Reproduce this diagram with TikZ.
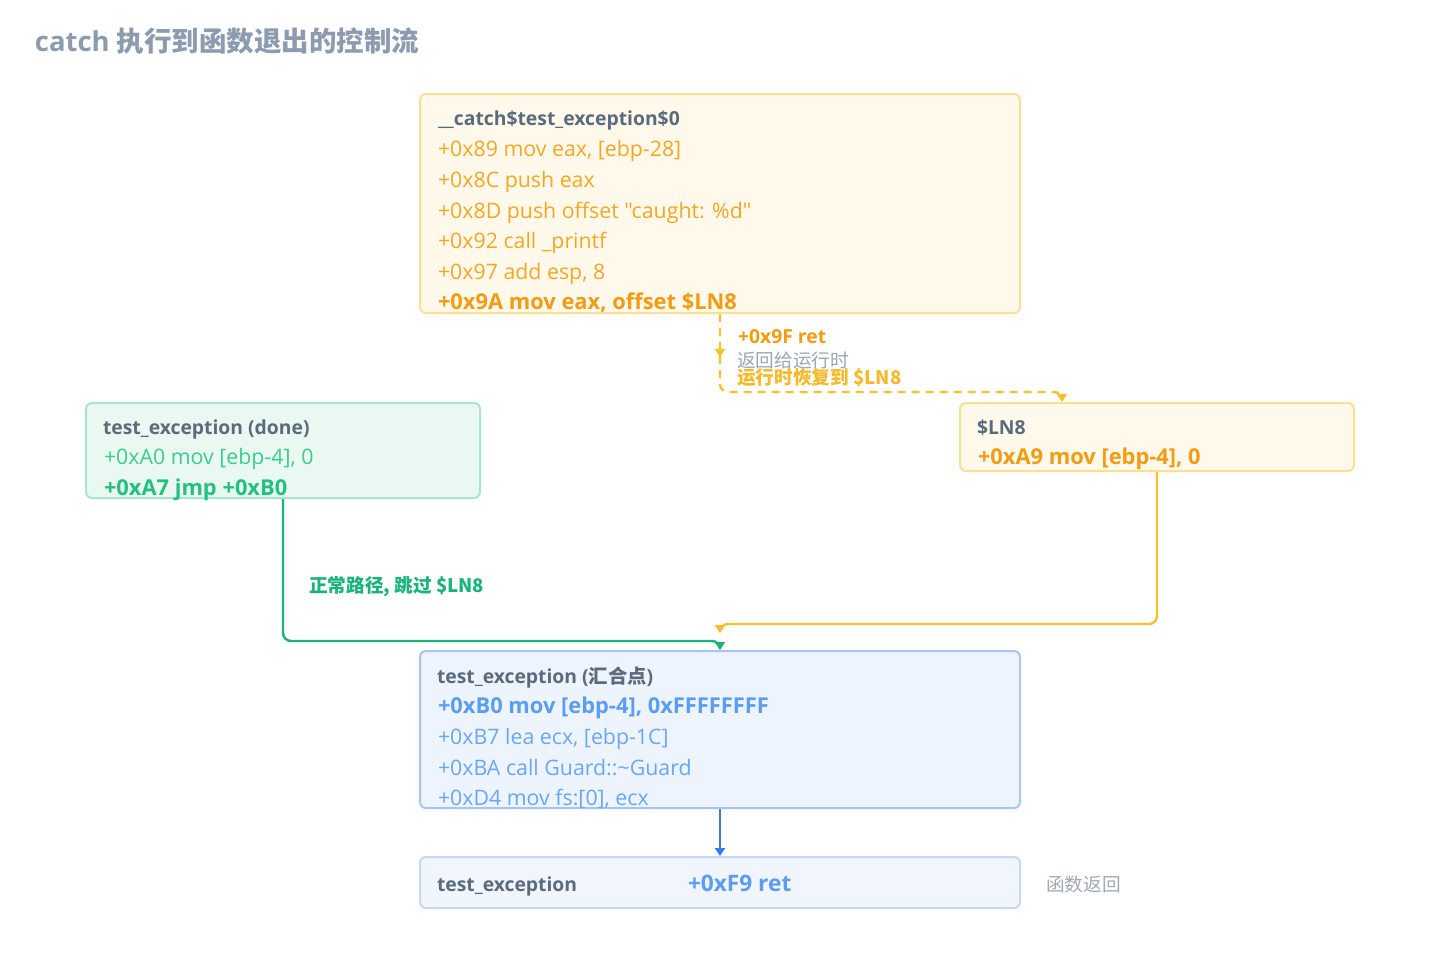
\documentclass[tikz,border=0pt]{standalone}
\usepackage{fontspec}
\setmainfont{Open Sans}[Ligatures=TeXOff]
\newfontfamily\cjk{Noto Sans CJK SC}
\usetikzlibrary{arrows.meta,calc}
\definecolor{titlec}{HTML}{8C9BB0}
\definecolor{hdrc}{HTML}{5B6B7E}
\definecolor{orr}{HTML}{F5A623}
\definecolor{orb}{HTML}{F39C12}
\definecolor{yel}{HTML}{F6B92B}
\definecolor{yline}{HTML}{F8C030}
\definecolor{grr}{HTML}{3DCB92}
\definecolor{grb}{HTML}{22C17F}
\definecolor{gline}{HTML}{19B47A}
\definecolor{blr}{HTML}{6AA6F8}
\definecolor{blb}{HTML}{5B9CF5}
\definecolor{bline}{HTML}{3A7BE6}
\definecolor{grayc}{HTML}{A0A8B4}
\definecolor{graylab}{HTML}{9AA6B8}
\definecolor{ybg}{HTML}{FFF9EB}
\definecolor{ybd}{HTML}{FDE08F}
\definecolor{gbg}{HTML}{EAF8F2}
\definecolor{gbd}{HTML}{A6E6CC}
\definecolor{bbg}{HTML}{EEF4FD}
\definecolor{bbd}{HTML}{A7C5F4}
\definecolor{rbg}{HTML}{F0F5FE}
\definecolor{rbd}{HTML}{C7D9F7}
\tikzset{
  box/.style={draw, rounded corners=4.5pt, line width=1.5pt, inner sep=0pt},
  ybox/.style={box, draw=ybd, fill=ybg},
  gbox/.style={box, draw=gbd, fill=gbg},
  bbox/.style={box, draw=bbd, fill=bbg},
  rbox/.style={box, draw=rbd, fill=rbg},
  txt/.style={anchor=base west, inner sep=0pt, outer sep=0pt},
  code/.style={txt, font=\fontsize{16}{19}\selectfont},
  codeb/.style={txt, font=\fontsize{16.4}{19}\selectfont\bfseries},
  hdr/.style={txt, font=\fontsize{14.5}{18}\selectfont\bfseries, text=hdrc},
  lab/.style={txt, font=\fontsize{14}{17}\selectfont},
  labb/.style={txt, font=\fontsize{14.5}{17}\selectfont\bfseries},
  conn/.style={line width=1.8pt, -{Triangle[width=7.5pt,length=6pt]}},
  dline/.style={conn, draw=yline, dash pattern=on 6pt off 4.5pt},
}
\begin{document}
\begin{tikzpicture}[x=0.75pt,y=-0.75pt]
\useasboundingbox (0,0) rectangle (1440,960);
% title
\node[txt, font=\fontsize{20.6}{24}\selectfont\bfseries, text=titlec] (title) at (35,51) {catch {\cjk 执行到函数退出的控制流}};

% boxes
\node[ybox, minimum width=450pt, minimum height=164.25pt] (catch) at (720,203.5) {};
\node[gbox, minimum width=295.5pt, minimum height=71.25pt] (done) at (283,450.5) {};
\node[ybox, minimum width=295.5pt, minimum height=51pt] (ln8) at (1157,437) {};
\node[bbox, minimum width=450pt, minimum height=117.75pt] (merge) at (720,729.5) {};
\node[rbox, minimum width=450pt, minimum height=38.25pt] (ret) at (720,882.5) {};

% catch box text
\node[hdr] (c0) at (438,125) {\_\_catch\$test\_exception\$0};
\node[code, text=orr] (c1) at (438,156.5) {+0x89 mov eax, [ebp-28]};
\node[code, text=orr] (c2) at (438,187.5) {+0x8C push eax};
\node[code, text=orr] (c3) at (438,218.5) {+0x8D push offset "caught: \%d"};
\node[code, text=orr] (c4) at (438,248.5) {+0x92 call \_printf};
\node[code, text=orr] (c5) at (438,279.5) {+0x97 add esp, 8};
\node[codeb, text=orb] (c6) at (438,309.5) {+0x9A mov eax, offset \$LN8};

% done box text
\node[hdr] (d0) at (103,434) {test\_exception (done)};
\node[code, text=grr] (d1) at (104,464.5) {+0xA0 mov [ebp-4], 0};
\node[codeb, text=grb] (d2) at (104,495.5) {+0xA7 jmp +0xB0};

% LN8 box text
\node[hdr] (l0) at (977,434) {\$LN8};
\node[codeb, text=orb] (l1) at (978,464.5) {+0xA9 mov [ebp-4], 0};

% merge box text
\node[hdr] (m0) at (437,683) {test\_exception ({\cjk 汇合点})};
\node[codeb, text=blb] (m1) at (438,713.5) {+0xB0 mov [ebp-4], 0xFFFFFFFF};
\node[code, text=blr] (m2) at (438,744.5) {+0xB7 lea ecx, [ebp-1C]};
\node[code, text=blr] (m3) at (438,775.5) {+0xBA call Guard::\textasciitilde Guard};
\node[code, text=blr] (m4) at (438,805.5) {+0xD4 mov fs:[0], ecx};

% ret box text
\node[hdr] (r0) at (437,891) {test\_exception};
\node[codeb, text=blb, font=\fontsize{17}{20}\selectfont\bfseries] (r1) at (688,891.5) {+0xF9 ret};
\node[lab, text=grayc] (r2) at (1046,891) {\cjk 函数返回};

% connector corner points
\coordinate (rt) at (720,357);
\coordinate (dc) at ($(ln8.north west)+(103,-10)$);
\coordinate (dt) at ($(ln8.north west)+(103,0)$);
\coordinate (yc) at ($(merge.north)+(0,-26)$);
\coordinate (yt) at ($(merge.north)+(0,-17)$);
\coordinate (gc) at ($(merge.north)+(0,-9)$);

% connectors
\draw[dline] (catch.south) -- (rt);
\draw[dline] (catch.south) [rounded corners=6pt] -- (catch.south |- dc) -- (dc) [sharp corners] -- (dt);
\node[labb, text=orb] (e1) at (738,343) {+0x9F ret};
\node[lab, text=graylab] (e2) at (737,367) {\cjk 返回给运行时};
\node[lab, text=yel, font=\fontsize{14}{17}\selectfont\cjk\bfseries] (e3) at (737,384) {运行时恢复到 \$LN8};

\draw[conn, draw=yline] (ln8.south) [rounded corners=6pt] -- (ln8.south |- yc) -- (yc) [sharp corners] -- (yt);
\draw[conn, draw=gline] (done.south) [rounded corners=6pt] -- (done.south |- gc) -- (gc) [sharp corners] -- (merge.north);
\node[lab, text=gline, font=\fontsize{14}{17}\selectfont\cjk\bfseries] (e4) at (309,592) {正常路径, 跳过 \$LN8};

\draw[conn, draw=bline] (merge.south) -- (ret.north);
\end{tikzpicture}
\end{document}
